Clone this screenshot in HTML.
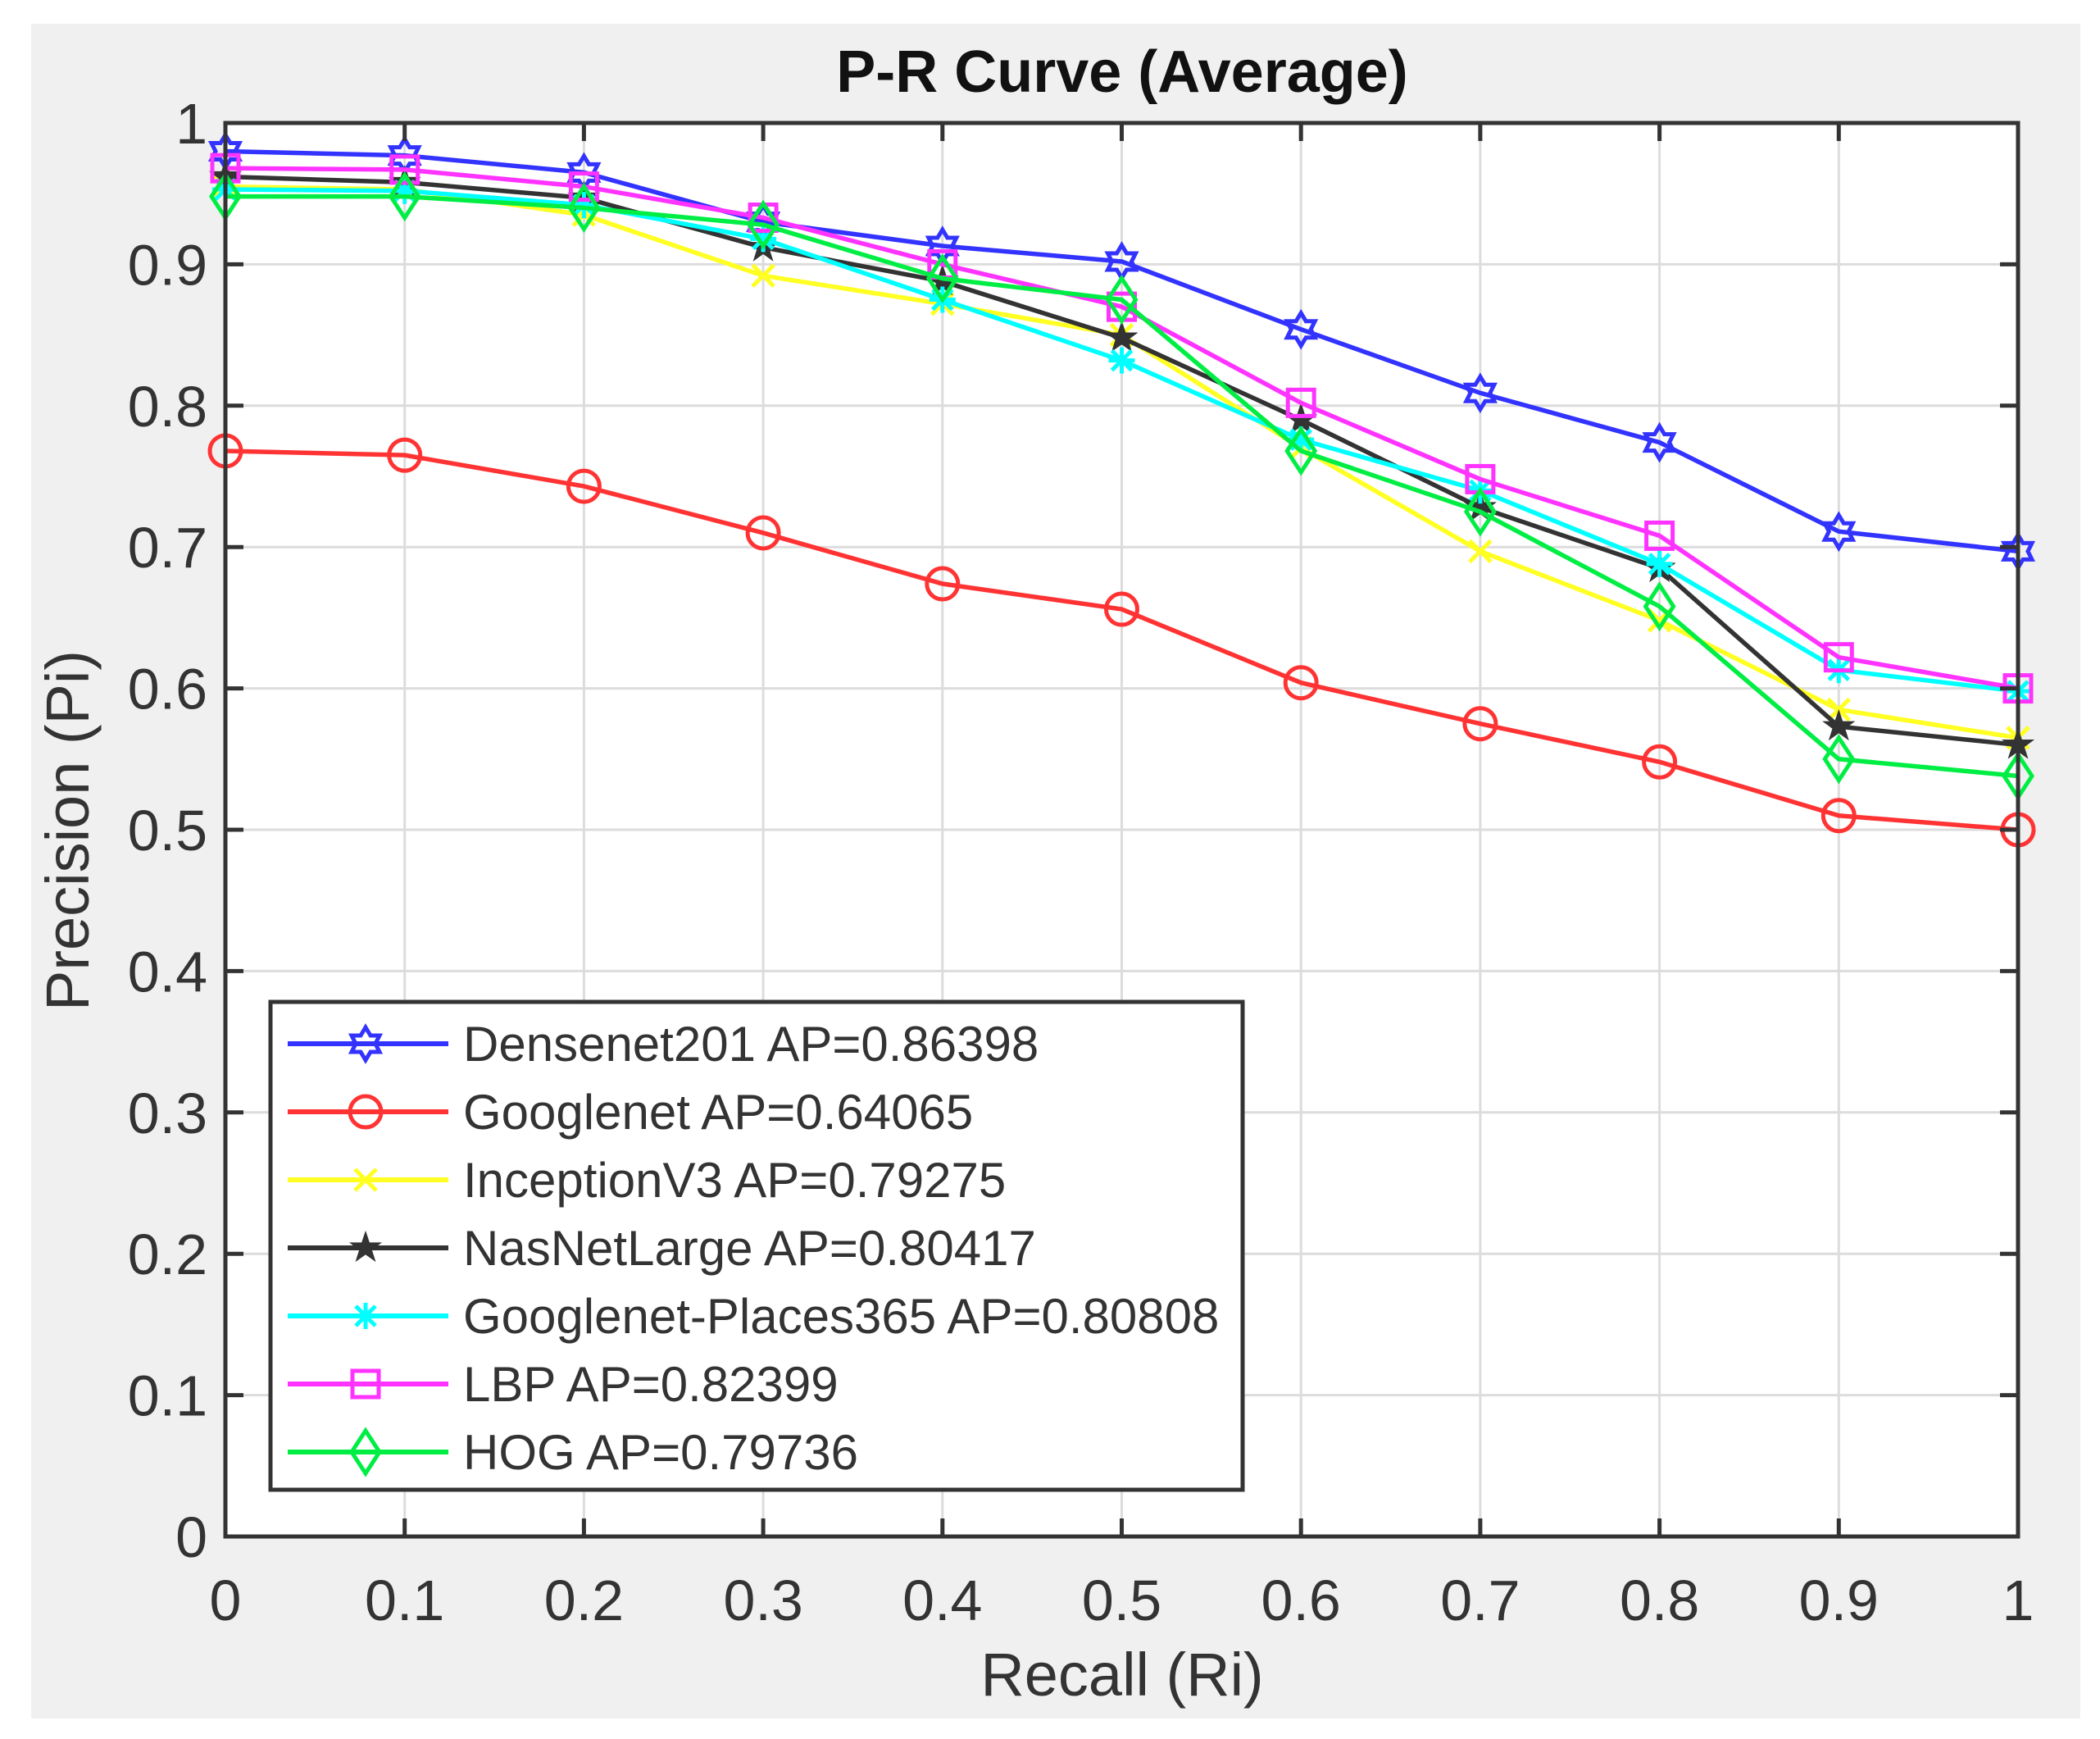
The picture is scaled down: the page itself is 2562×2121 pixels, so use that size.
<!DOCTYPE html>
<html><head><meta charset="utf-8"><style>
body{margin:0;background:#fff;}
svg{display:block;font-family:"Liberation Sans",Arial,sans-serif;}
</style></head><body>
<svg id="chart" width="2562" height="2121" viewBox="0 0 2562 2121">
<rect x="38" y="29" width="2500" height="2067" fill="#f0f0f0"/>
<rect x="275" y="150" width="2187" height="1724" fill="#fff"/>
<g id="grid"></g>
<g id="series"></g>
<rect x="275" y="150" width="2187" height="1724" fill="none" stroke="#333" stroke-width="5"/>
<g id="ticks"></g>
<text x="1369" y="112" text-anchor="middle" font-size="72" font-weight="bold" fill="#111">P-R Curve (Average)</text>
<text x="1369" y="2068" text-anchor="middle" font-size="74" fill="#333">Recall (Ri)</text>
<text x="0" y="0" transform="translate(108,1013) rotate(-90)" text-anchor="middle" font-size="74" fill="#333">Precision (Pi)</text>
<rect x="330" y="1222" width="1186" height="595" fill="#fff" stroke="#333" stroke-width="5"/>
<g id="legend"></g>
</svg>
<script>
const recall = [0,0.1,0.2,0.3,0.4,0.5,0.6,0.7,0.8,0.9,1];
const xTicks = ["0","0.1","0.2","0.3","0.4","0.5","0.6","0.7","0.8","0.9","1"];
const yTicks = ["0","0.1","0.2","0.3","0.4","0.5","0.6","0.7","0.8","0.9","1"];
const seriesNames = ["Densenet201 AP=0.86398","Googlenet AP=0.64065","InceptionV3 AP=0.79275","NasNetLarge AP=0.80417","Googlenet-Places365 AP=0.80808","LBP AP=0.82399","HOG AP=0.79736"];
const densenet = [0.98,0.977,0.965,0.93,0.913,0.902,0.854,0.809,0.774,0.711,0.697];
const googlenet = [0.768,0.765,0.743,0.71,0.674,0.656,0.604,0.575,0.548,0.51,0.5];
const inception = [0.955,0.953,0.935,0.892,0.872,0.85,0.77,0.697,0.648,0.585,0.565];
const nasnet = [0.962,0.958,0.947,0.912,0.888,0.848,0.79,0.728,0.685,0.573,0.56];
const places = [0.953,0.952,0.942,0.918,0.875,0.832,0.776,0.74,0.688,0.613,0.598];
const lbp = [0.968,0.967,0.955,0.933,0.9,0.87,0.802,0.748,0.708,0.622,0.6];
const hog = [0.948,0.948,0.94,0.928,0.89,0.875,0.768,0.725,0.658,0.55,0.538];

const NS="http://www.w3.org/2000/svg";
const L=275,R=2462,T=150,B=1874;
const xs=v=>L+v*(R-L), ys=v=>B-v*(B-T);
function mk(tag,attrs,parent){const e=document.createElementNS(NS,tag);for(const k in attrs)e.setAttribute(k,attrs[k]);parent.appendChild(e);return e;}
const grid=document.getElementById('grid'),ticks=document.getElementById('ticks'),sg=document.getElementById('series'),lg=document.getElementById('legend');
xTicks.forEach((t,i)=>{const v=+t;const x=xs(v);
 const g=mk('line',{x1:x,x2:x,y1:T,y2:B,stroke:'#dcdcdc','stroke-width':3},grid);
 
 
 const tk=mk('path',{d:`M${x},${B}v-22M${x},${T}v22`,stroke:'#333','stroke-width':5},ticks);
 
 
 const tx=mk('text',{x:x,y:B+102,'text-anchor':'middle','font-size':70,fill:'#333'},ticks);tx.textContent=t;
 
 
});
yTicks.forEach((t,i)=>{const v=+t;const y=ys(v);
 const g=mk('line',{x1:L,x2:R,y1:y,y2:y,stroke:'#dcdcdc','stroke-width':3},grid);
 
 
 const tk=mk('path',{d:`M${L},${y}h22M${R},${y}h-22`,stroke:'#333','stroke-width':5},ticks);
 
 
 const tx=mk('text',{x:L-22,y:y+25,'text-anchor':'end','font-size':70,fill:'#333'},ticks);tx.textContent=t;
 
 
});
const colors=['#3333ff','#ff3333','#ffff22','#333333','#00ffff','#ff33ff','#00ee44'];
const markers=['hex','circle','x','star','aster','square','diamond'];
const data=[densenet,googlenet,inception,nasnet,places,lbp,hog];
function marker(type,x,y,c,p){
 let d;
 if(type==='circle')return mk('circle',{cx:x,cy:y,r:19,fill:'none',stroke:c,'stroke-width':5},p);
 if(type==='square')return mk('rect',{x:x-16,y:y-16,width:32,height:32,fill:'none',stroke:c,'stroke-width':5},p);
 if(type==='diamond')d=`M${x},${y-26}L${x+17},${y}L${x},${y+26}L${x-17},${y}Z`;
 else if(type==='x')d=`M${x-13},${y-13}L${x+13},${y+13}M${x-13},${y+13}L${x+13},${y-13}`;
 else if(type==='aster')d=`M${x-16},${y}h32M${x},${y-16}v32M${x-12},${y-12}l24,24M${x-12},${y+12}l24,-24`;
 else if(type==='hex'){d=`M${x},${y-20}L${x+6},${y-10}L${x+17},${y-10}L${x+12},${y}L${x+17},${y+10}L${x+6},${y+10}L${x},${y+20}L${x-6},${y+10}L${x-17},${y+10}L${x-12},${y}L${x-17},${y-10}L${x-6},${y-10}Z`;}
 else if(type==='star'){let pts=[];for(let k=0;k<10;k++){const a=-Math.PI/2+k*Math.PI/5,r=k%2?7:18;pts.push((x+r*Math.cos(a)).toFixed(1)+','+(y+r*Math.sin(a)).toFixed(1));}
  return mk('polygon',{points:pts.join(' '),fill:c,stroke:c,'stroke-width':2},p);}
 return mk('path',{d:d,fill:'none',stroke:c,'stroke-width':5},p);
}
data.forEach((arr,si)=>{
 const c=colors[si];
 const pl=mk('polyline',{points:arr.map((v,i)=>xs(recall[i])+','+ys(v)).join(' '),fill:'none',stroke:c,'stroke-width':5.5},sg);
 
 
 arr.forEach((v,i)=>{const m=marker(markers[si],xs(recall[i]),ys(v),c,sg);
  
  });
 const y=1273+si*83;
 const ll=mk('line',{x1:351,x2:547,y1:y,y2:y,stroke:c,'stroke-width':6},lg);
 
 
 const lm=marker(markers[si],446,y,c,lg);
 
 
 const lt=mk('text',{x:565,y:y+21,'font-size':60,fill:'#333'},lg);lt.textContent=seriesNames[si];
 
 
});
</script>
</body></html>
